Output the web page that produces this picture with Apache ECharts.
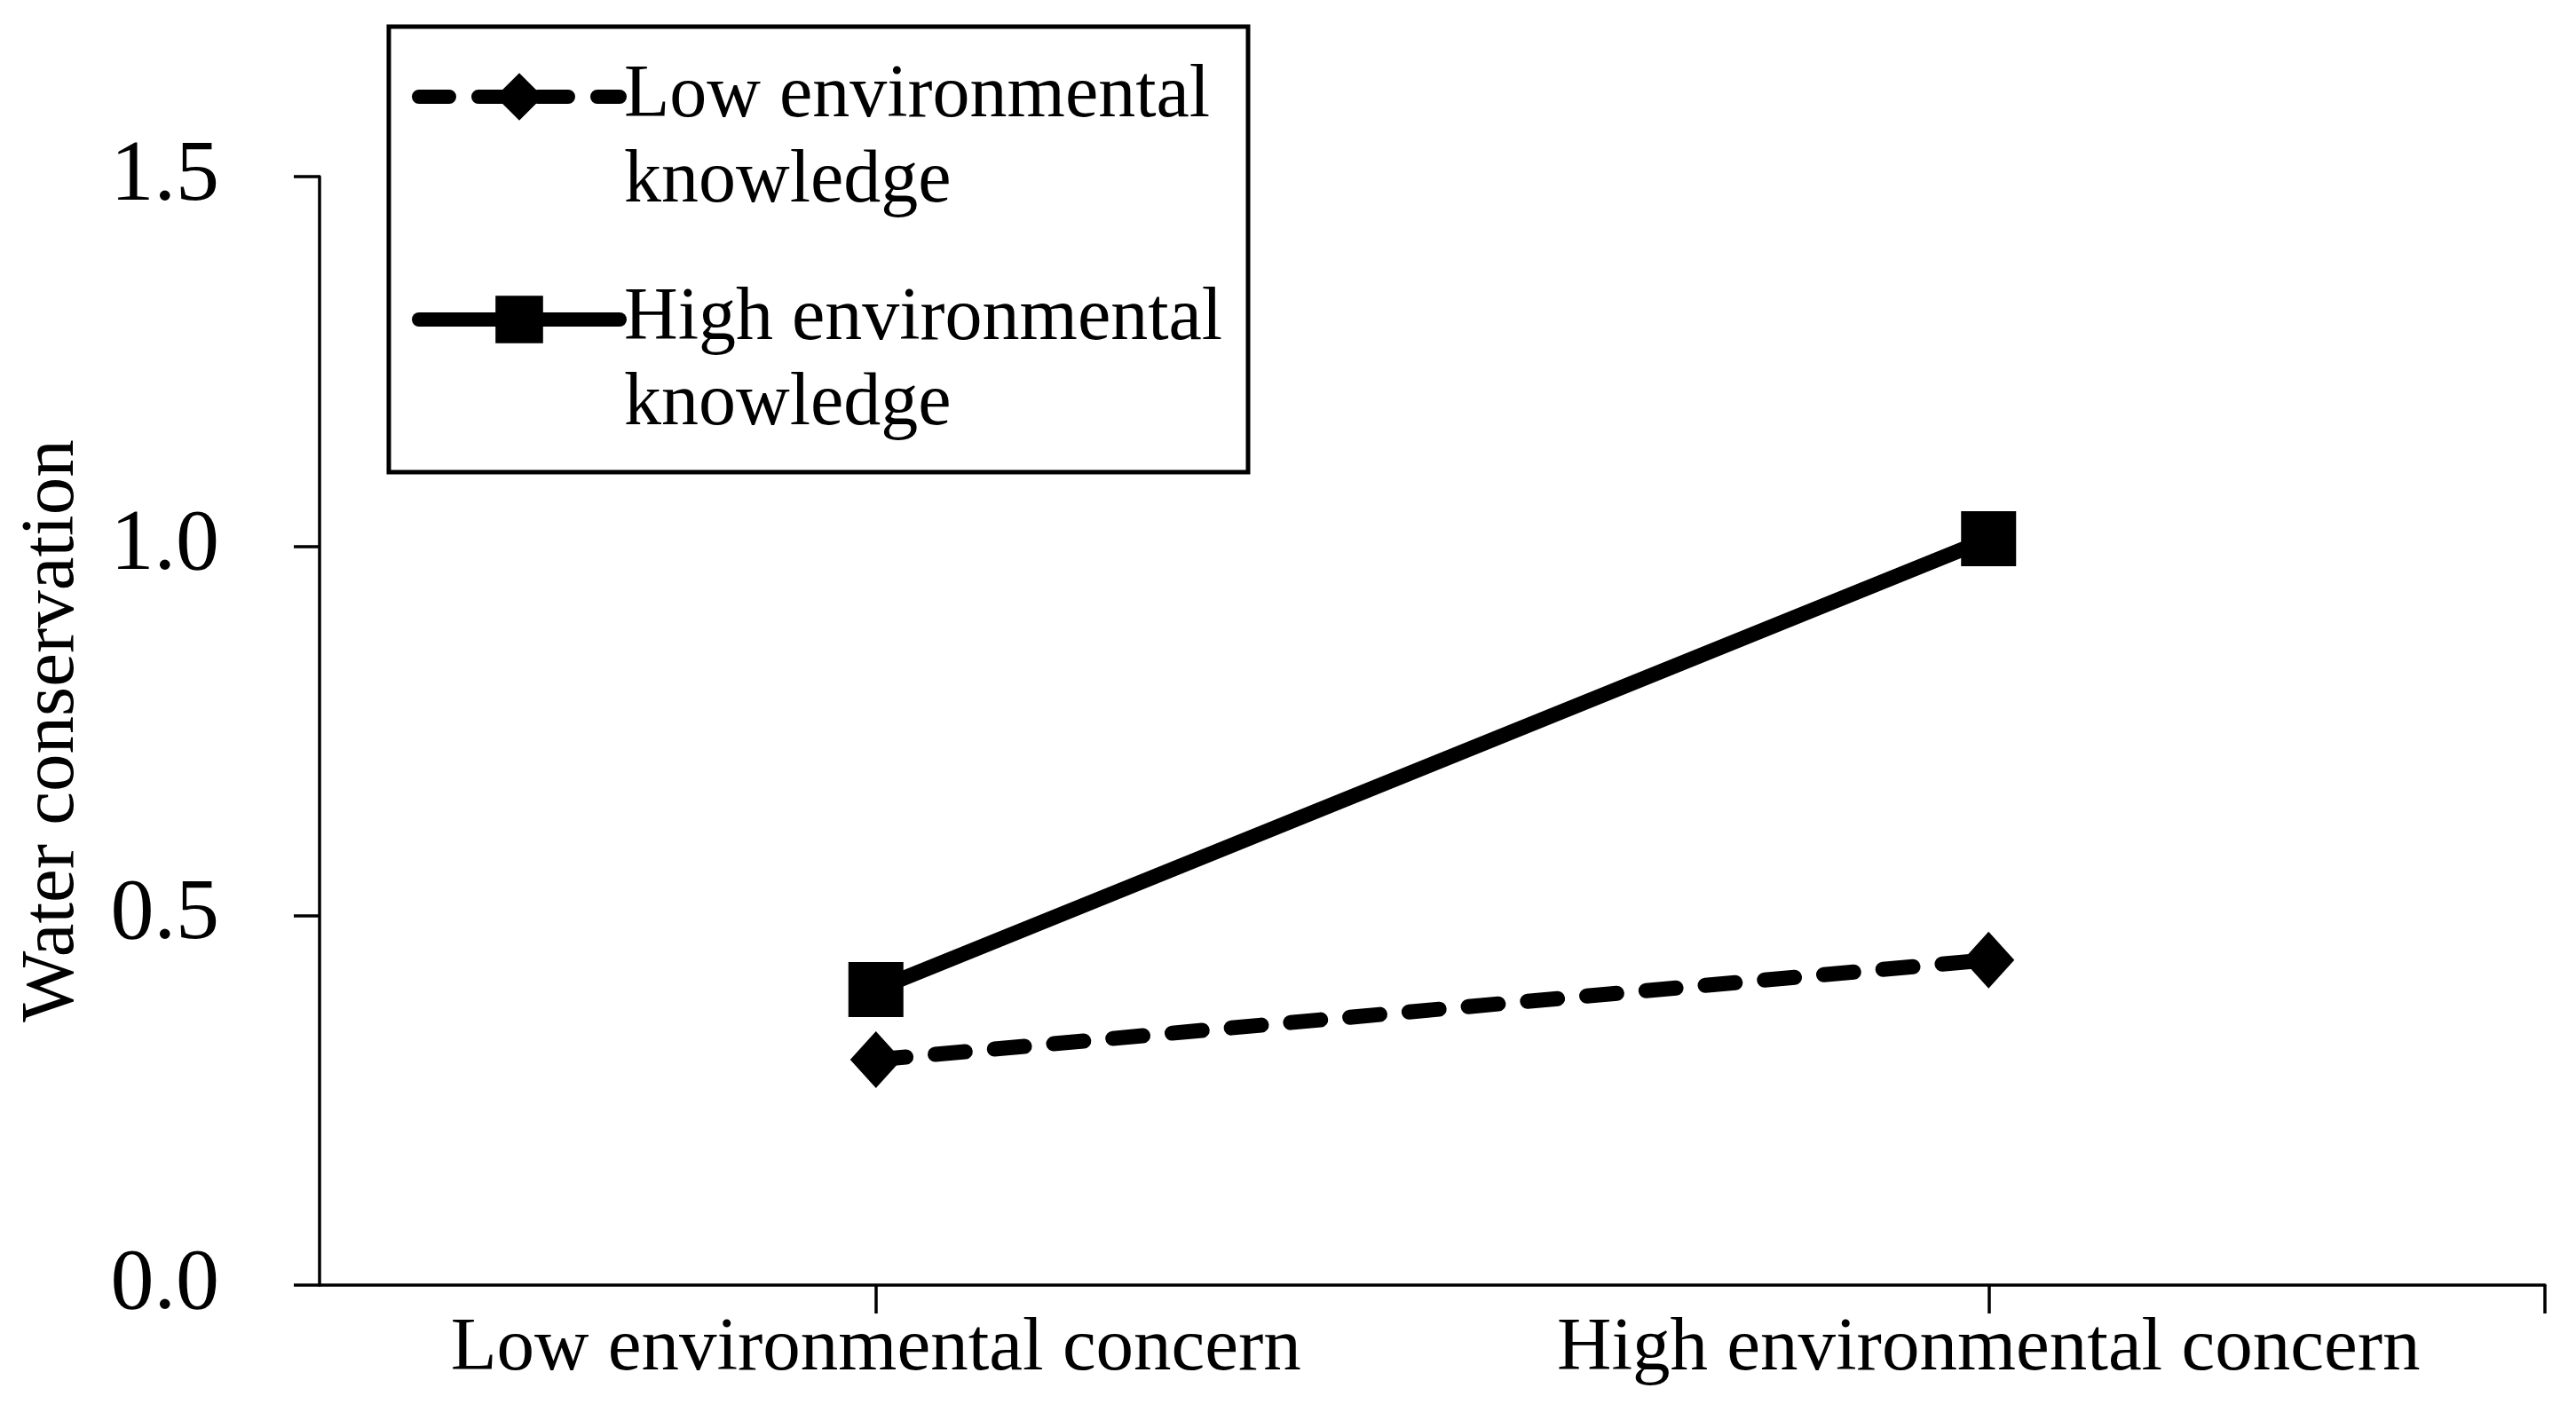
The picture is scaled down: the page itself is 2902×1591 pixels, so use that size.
<!DOCTYPE html>
<html>
<head>
<meta charset="utf-8">
<script src="https://cdn.jsdelivr.net/npm/echarts@6/dist/echarts.min.js"></script>
<style>
html,body{margin:0;padding:0;background:#fff;}
#c{width:2902px;height:1591px;}
</style>
</head>
<body>
<div id="c"></div>
<script>
// ---- data ----
const categories = ['Low environmental concern', 'High environmental concern'];
const seriesNames = ['Low environmental\nknowledge', 'High environmental\nknowledge'];
const lowKnowledge = [0.305, 0.44];
const highKnowledge = [0.40, 1.01];
const yMin = 0, yMax = 1.5, yInterval = 0.5;
const yAxisName = 'Water conservation';
const tickSlots = ['', '', '', ''];   // quarter slots used only to place x tick marks

const FONT = '"Liberation Serif", "Times New Roman", Times, serif';
const chart = echarts.init(document.getElementById('c'), null, {renderer: 'canvas'});

function legendFormatter(name) {
  return name.split('\n').map(function (s) { return '{a|' + s + '}'; }).join('\n');
}
function legendOpt(name, top, lineStyle) {
  return {
    data: [name], orient: 'vertical', left: 464, top: top, padding: 0,
    itemWidth: 226, itemHeight: 67, borderWidth: 0, selectedMode: false,
    formatter: legendFormatter,
    lineStyle: lineStyle,
    itemStyle: {color: '#000'},
    textStyle: {color: '#000', fontFamily: FONT, fontSize: 84, lineHeight: 96, padding: [96, 0, 0, 0],
      rich: {a: {color: '#000', fontFamily: FONT, fontSize: 84, lineHeight: 96}}}
  };
}

chart.setOption({
  backgroundColor: '#fff',
  animation: false,
  grid: {left: 360, right: 35, top: 199, bottom: 143, containLabel: false, outerBoundsMode: 'none'},
  xAxis: [
    {
      type: 'category', data: categories, boundaryGap: true,
      axisLine: {show: true, lineStyle: {color: '#000', width: 3.5}},
      axisTick: {show: false},
      axisLabel: {color: '#000', fontFamily: FONT, fontSize: 85, margin: 30, interval: 0},
      splitLine: {show: false}
    },
    {
      type: 'category', data: tickSlots, boundaryGap: true, gridIndex: 0, position: 'bottom', offset: 0,
      axisLine: {show: false},
      axisLabel: {show: false},
      axisTick: {show: true, length: 32, interval: function (i) { return i === 1 || i === 3; },
                 lineStyle: {color: '#000', width: 3.5}},
      splitLine: {show: false}
    }
  ],
  yAxis: {
    type: 'value', min: yMin, max: yMax, interval: yInterval,
    name: yAxisName, nameLocation: 'middle', nameGap: 258, nameRotate: 90,
    nameTextStyle: {color: '#000', fontFamily: FONT, fontSize: 85},
    axisLine: {show: true, lineStyle: {color: '#000', width: 3.5}},
    axisTick: {show: true, inside: false, length: 29, lineStyle: {color: '#000', width: 3.5}},
    axisLabel: {color: '#000', fontFamily: FONT, fontSize: 98, margin: 113,
                formatter: function (v) { return v.toFixed(1); }},
    splitLine: {show: false}
  },
  legend: [
    legendOpt(seriesNames[0], -35, {color: '#000', width: 16, type: [34, 33], cap: 'round'}),
    legendOpt(seriesNames[1], 216, {color: '#000', width: 16, type: 'solid', cap: 'round'})
  ],
  graphic: [
    {type: 'rect', z: 100, silent: true,
     shape: {x: 438, y: 30, width: 968, height: 502},
     style: {fill: 'none', stroke: '#000', lineWidth: 5}}
  ],
  series: [
    {
      name: seriesNames[0], type: 'line', data: lowKnowledge,
      symbol: 'diamond', symbolSize: [58, 64],
      lineStyle: {color: '#000', width: 17, type: [34, 33], cap: 'round'},
      itemStyle: {color: '#000'}
    },
    {
      name: seriesNames[1], type: 'line', data: highKnowledge,
      symbol: 'rect', symbolSize: 62,
      lineStyle: {color: '#000', width: 17, type: 'solid'},
      itemStyle: {color: '#000'}
    }
  ]
});
</script>
</body>
</html>
